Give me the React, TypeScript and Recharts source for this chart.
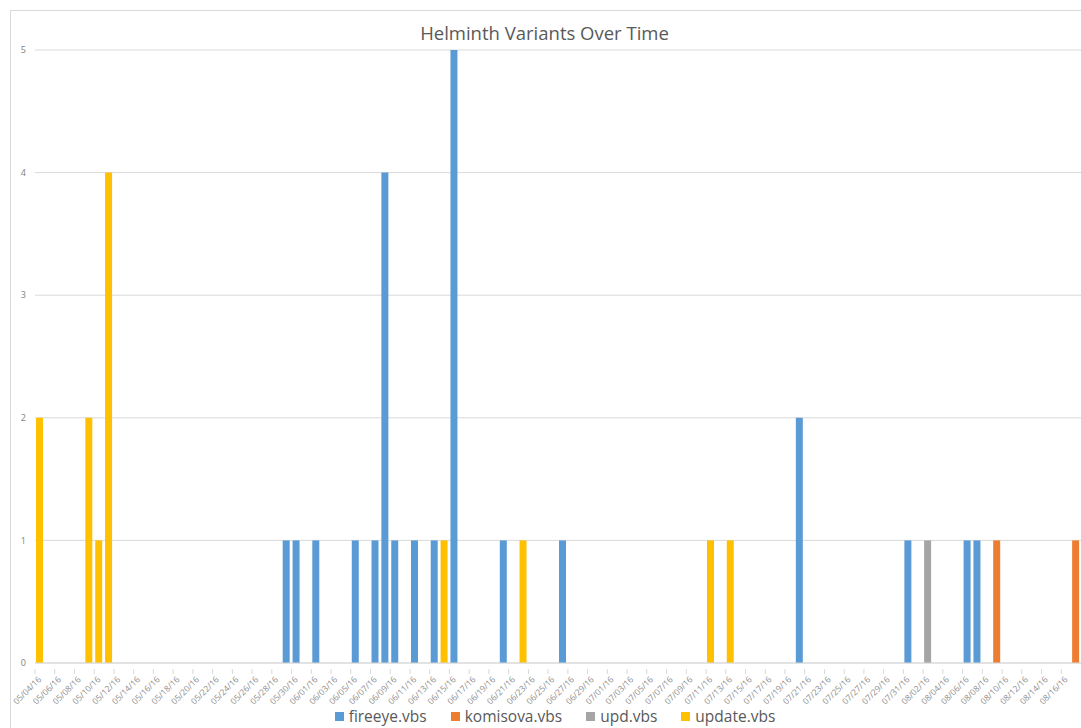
import React from "react";
import { BarChart, Bar, XAxis, YAxis, CartesianGrid, Legend } from "recharts";

// Category range: daily from 05/04/16 to 08/17/16
const startMonth = 5;
const startDay = 4;
const endMonth = 8;
const endDay = 17;
const monthLengths: Record<number, number> = { 5: 31, 6: 30, 7: 31, 8: 31 };

const categories: string[] = [];
for (let m = startMonth; m <= endMonth; m++) {
  const first = m === startMonth ? startDay : 1;
  const last = m === endMonth ? endDay : monthLengths[m];
  for (let d = first; d <= last; d++) {
    categories.push(`${String(m).padStart(2, "0")}/${String(d).padStart(2, "0")}/16`);
  }
}

const fireeye: [string, number][] = [
  ["05/29/16", 1], ["05/30/16", 1], ["06/01/16", 1], ["06/05/16", 1],
  ["06/07/16", 1], ["06/08/16", 4], ["06/09/16", 1], ["06/11/16", 1],
  ["06/13/16", 1], ["06/15/16", 5], ["06/20/16", 1], ["06/26/16", 1],
  ["07/20/16", 2], ["07/31/16", 1], ["08/06/16", 1], ["08/07/16", 1],
];
const komisova: [string, number][] = [["08/09/16", 1], ["08/17/16", 1]];
const upd: [string, number][] = [["08/02/16", 1]];
const update: [string, number][] = [
  ["05/04/16", 2], ["05/09/16", 2], ["05/10/16", 1], ["05/11/16", 4],
  ["06/14/16", 1], ["06/22/16", 1], ["07/11/16", 1], ["07/13/16", 1],
];

const yTicks = [0, 1, 2, 3, 4, 5];

const seriesDefs = [
  { key: "fireeye.vbs", values: fireeye, color: "#5B9BD5" },
  { key: "komisova.vbs", values: komisova, color: "#ED7D31" },
  { key: "upd.vbs", values: upd, color: "#A5A5A5" },
  { key: "update.vbs", values: update, color: "#FFC000" },
];

const data = categories.map((date) => {
  const row: Record<string, any> = { date };
  seriesDefs.forEach((s) => {
    const hit = s.values.find((v) => v[0] === date);
    row[s.key] = hit ? hit[1] : 0;
  });
  return row;
});

const CHART_W = 1081;
const CHART_H = 728;
const Y_W = 35;
const band = (CHART_W - Y_W) / categories.length;

const XTick = (props: any) => {
  const { x, y, payload } = props;
  const ty = y + 9;
  return (
    <g>
      <line x1={x - band / 2} x2={x - band / 2} y1={y - 2} y2={y + 3} stroke="#d9d9d9" />
      <text
        x={x + 2}
        y={ty}
        textAnchor="end"
        fill="#8c8c8c"
        fontSize={8.5}
        fontFamily="'Open Sans', sans-serif"
        transform={`rotate(-45 ${x + 2} ${ty})`}
      >
        {payload.value}
      </text>
    </g>
  );
};

const LegendContent = () => (
  <div
    style={{
      display: "flex",
      justifyContent: "center",
      gap: 24,
      fontFamily: "'Open Sans', sans-serif",
      fontSize: 15.5,
      color: "#595959",
      paddingLeft: Y_W - 6,
      marginTop: -3,
    }}
  >
    {seriesDefs.map((s) => (
      <div key={s.key} style={{ display: "flex", alignItems: "center" }}>
        <span style={{ width: 9, height: 9, background: s.color, display: "inline-block", marginRight: 5 }} />
        <span>{s.key}</span>
      </div>
    ))}
  </div>
);

export default function App() {
  return (
    <div
      style={{
        position: "absolute",
        left: 0,
        top: 0,
        width: CHART_W,
        height: CHART_H,
        overflow: "hidden",
        background: "#fff",
      }}
    >
      <div
        style={{
          position: "absolute",
          left: 10,
          top: 10,
          width: 1200,
          height: 900,
          border: "1px solid #d9d9d9",
        }}
      />
      <div
        style={{
          position: "absolute",
          left: 0,
          top: 20,
          width: 1089,
          textAlign: "center",
          fontFamily: "'Open Sans', sans-serif",
          fontSize: 18.5,
          color: "#595959",
        }}
      >
        Helminth Variants Over Time
      </div>
      <div style={{ position: "absolute", left: 0, top: 0 }}>
        <BarChart
          width={CHART_W}
          height={CHART_H}
          data={data}
          margin={{ top: 50, right: 0, left: 0, bottom: 0 }}
          barSize={7}
        >
          <CartesianGrid vertical={false} stroke="#d9d9d9" />
          <XAxis
            dataKey="date"
            interval={1}
            height={45}
            axisLine={{ stroke: "#d9d9d9" }}
            tickLine={false}
            tick={<XTick />}
          />
          <YAxis
            width={Y_W}
            domain={[0, 5]}
            ticks={yTicks}
            axisLine={false}
            tickLine={false}
            tickSize={0}
            tickMargin={9}
            tick={{ fill: "#7f7f7f", fontSize: 9, fontFamily: "'Open Sans', sans-serif" }}
          />
          <Legend verticalAlign="bottom" height={20} content={<LegendContent />} />
          {seriesDefs.map((s) => (
            <Bar key={s.key} dataKey={s.key} stackId="a" fill={s.color} isAnimationActive={false} />
          ))}
        </BarChart>
      </div>
    </div>
  );
}
